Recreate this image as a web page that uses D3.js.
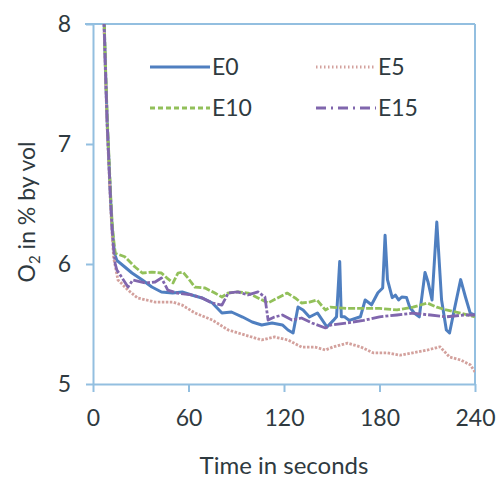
<!DOCTYPE html>
<html><head><meta charset="utf-8">
<script src="https://cdn.jsdelivr.net/npm/d3@7"></script>
<style>
body{margin:0;background:#fff;}
svg{display:block;font-family:Lato,"Open Sans",sans-serif;}
</style></head>
<body><svg id="c" width="498" height="484"></svg>
<script>
// ---- data ----
const xTicks = [0, 60, 120, 180, 240];
const yTicks = [5, 6, 7, 8];
const seriesNames = ["E0", "E5", "E10", "E15"];

const e0T = [0,4,6,7,8,9,10,11,12,13,14,15,20,24.5,31,37,43,50,56,62,68.5,75,81,87,94,100,106,112.5,119,122.5,125.7,128.8,132,136,141,147,151,153,155,156,158,161,168,171,175,179,182,183.5,185,188,190,192,194,197,199,202,205,208.6,210.5,213,216,219,222,224,227,231,234,237,240];
const e0V = [20.9,10.5,8.6,8.0,7.55,7.15,6.85,6.55,6.3,6.15,6.07,6.03,5.975,5.925,5.867,5.808,5.767,5.758,5.767,5.742,5.717,5.675,5.592,5.60,5.558,5.517,5.492,5.508,5.492,5.45,5.425,5.642,5.617,5.558,5.592,5.475,5.53,5.56,6.02,5.56,5.56,5.53,5.56,5.70,5.66,5.76,5.80,6.24,5.87,5.72,5.74,5.70,5.725,5.72,5.64,5.59,5.56,5.93,5.85,5.70,6.35,5.70,5.45,5.425,5.62,5.87,5.725,5.59,5.575];

const e5T = [0,4,6,7,8,9,10,11,12,13,15.7,17,22,28,39,50,56,64,75,85,95.5,106,114,122.5,131,139.5,146,151,160,168,176,185,193,201,210,218,224,231,237,240];
const e5V = [20.9,10.3,8.5,7.95,7.5,7.1,6.8,6.5,6.25,6.05,5.867,5.85,5.783,5.717,5.683,5.683,5.658,5.592,5.533,5.45,5.408,5.367,5.392,5.367,5.308,5.308,5.283,5.31,5.34,5.31,5.26,5.26,5.24,5.26,5.283,5.31,5.225,5.20,5.16,5.10];

const e10T = [0,4,6,7,8,9,10,11,12,13,14,20,26.4,31,37,43,46.5,50.3,53.4,56.5,59.7,64,70.4,76.6,81,84.8,91,97.4,103.7,110,116,122,127,131,136,140.7,146,149,160,170,180,191,201,210,216,222,231,240];
const e10V = [20.9,10.6,8.7,8.05,7.6,7.2,6.9,6.6,6.35,6.2,6.09,6.06,5.975,5.925,5.933,5.925,5.883,5.842,5.925,5.933,5.883,5.808,5.80,5.758,5.725,5.758,5.767,5.758,5.717,5.675,5.717,5.758,5.717,5.675,5.683,5.70,5.617,5.64,5.63,5.63,5.63,5.617,5.64,5.675,5.64,5.617,5.59,5.56];

const e15T = [0,4,6,7,8,9,10,11,12,13,14,15,18,22,25,33,39,43,47,53,62,68.5,75,81,85,91,97.4,103.7,108,110,114,119,125,131,137.6,146,149,160,170,180,191,201,212,222,233,240];
const e15V = [20.9,10.4,8.6,8.0,7.55,7.15,6.85,6.55,6.3,6.12,6.0,5.95,5.89,5.808,5.867,5.842,5.85,5.883,5.783,5.758,5.742,5.717,5.675,5.658,5.758,5.767,5.742,5.767,5.725,5.533,5.558,5.575,5.533,5.55,5.508,5.467,5.49,5.51,5.53,5.56,5.575,5.59,5.575,5.56,5.575,5.575];

const seriesT = [e0T, e5T, e10T, e15T];
const seriesV = [e0V, e5V, e10V, e15V];
const colors = ["#4f7fc0", "#d3a19d", "#92c05a", "#8066ad"];
const legendDashes = [null, "1.5,2.5", "5,3", "10,5,2,5"];
const plotDashes = [null, "2.5,1.5", "7,2", "12,2,3,2"];
const widths = [3, 2.8, 2.8, 2.8];

// ---- layout ----
const svg = d3.select("#c");
const x = d3.scaleLinear().domain([0, 240]).range([93, 475]);
const y = d3.scaleLinear().domain([5, 8]).range([384, 24]);
const axisColor = "#93bfe0";
const textColor = "#2f3a40";

svg.append("defs").append("clipPath").attr("id", "clip")
  .append("rect").attr("x", x(0)).attr("y", y(8)).attr("width", x(240) - x(0)).attr("height", y(5) - y(8));

// frame (top & right)
svg.append("line").attr("x1", 85).attr("x2", x(240)).attr("y1", y(8)).attr("y2", y(8))
  .attr("stroke", axisColor).attr("stroke-width", 2);
svg.append("line").attr("x1", x(240)).attr("x2", x(240)).attr("y1", y(8)).attr("y2", y(5))
  .attr("stroke", axisColor).attr("stroke-width", 2);

const yAxis = svg.append("g").attr("transform", `translate(${x(0)},0)`)
  .call(d3.axisLeft(y).tickValues(yTicks).tickFormat(d3.format("d")).tickSize(7).tickSizeOuter(0).tickPadding(15));
const xAxis = svg.append("g").attr("transform", `translate(0,${y(5)})`)
  .call(d3.axisBottom(x).tickValues(xTicks).tickFormat(d3.format("d")).tickSize(8).tickSizeOuter(0).tickPadding(18));
[yAxis, xAxis].forEach(g => {
  g.select(".domain").attr("stroke", axisColor).attr("stroke-width", 2);
  g.selectAll(".tick line").attr("stroke", axisColor).attr("stroke-width", 2);
  g.selectAll(".tick text").attr("fill", textColor).style("font-size", "23px").style("font-family", "Lato");
});

// series
const line = d3.line().x(d => x(d[0])).y(d => y(d[1]));
const plot = svg.append("g").attr("clip-path", "url(#clip)");
seriesNames.forEach((n, i) => {
  const pts = seriesT[i].map((t, j) => [t, seriesV[i][j]]);
  plot.append("path").datum(pts).attr("d", line)
    .attr("fill", "none").attr("stroke", colors[i]).attr("stroke-width", widths[i])
    .attr("stroke-linejoin", "round")
    .attr("stroke-dasharray", plotDashes[i]);
});

// legend
const legPos = [[150, 67], [316, 67], [150, 108], [316, 108]];
seriesNames.forEach((n, i) => {
  const [lx, ly] = legPos[i];
  svg.append("line").attr("x1", lx).attr("x2", lx + 60).attr("y1", ly).attr("y2", ly)
    .attr("stroke", colors[i]).attr("stroke-width", widths[i]).attr("stroke-dasharray", legendDashes[i]);
  svg.append("text").attr("x", lx + 62).attr("y", ly).attr("dy", "0.36em")
    .attr("fill", textColor).style("font-size", "23px").text(n);
});

// axis titles
svg.append("text").attr("x", (x(0) + x(240)) / 2).attr("y", 474).attr("text-anchor", "middle")
  .attr("fill", textColor).style("font-size", "24px").text("Time in seconds");
const yt = svg.append("text").attr("transform", "translate(35,212) rotate(-90)").attr("text-anchor", "middle")
  .attr("fill", textColor).style("font-size", "23px");
yt.append("tspan").text("O");
yt.append("tspan").attr("dy", 5).style("font-size", "15px").text("2");
yt.append("tspan").attr("dy", -5).text(" in % by vol");
</script></body></html>
